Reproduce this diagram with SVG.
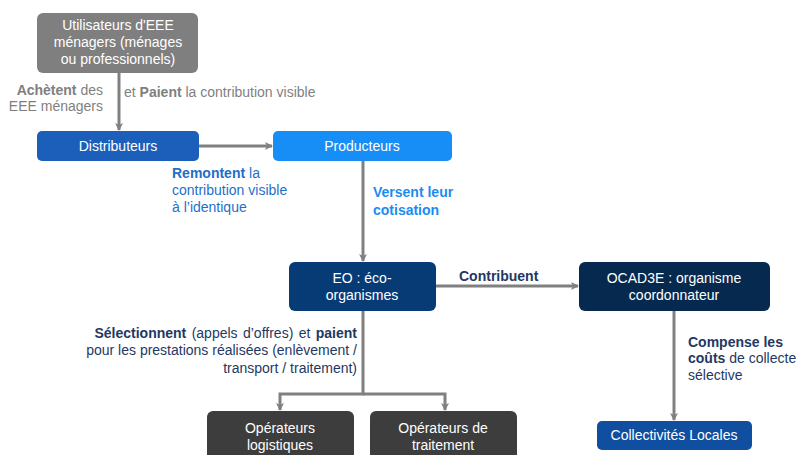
<svg xmlns="http://www.w3.org/2000/svg" width="799" height="455" viewBox="0 0 799 455">
<style>
text{font-family:"Liberation Sans",Arial,sans-serif;font-size:14px}
.w{fill:#ffffff;text-anchor:middle}
.c{fill:none;stroke:#808080;stroke-width:3}
.b{font-weight:bold}
.gr{fill:#7f7f7f}
.bl{fill:#1f6fc8}
.lb{fill:#1a8cf0}
.nv{fill:#1f3864}
</style>
<defs>
<marker id="ah" markerWidth="10" markerHeight="10" refX="7" refY="5" orient="auto" markerUnits="userSpaceOnUse">
<path d="M0,1 L8,5 L0,9 L2,5 Z" fill="#808080"/>
</marker>
</defs>
<g id="connectors">
<line class="c" x1="119" y1="73" x2="119" y2="130" marker-end="url(#ah)"/>
<line class="c" x1="199" y1="146" x2="272" y2="146" marker-end="url(#ah)"/>
<line class="c" x1="363" y1="161" x2="363" y2="261" marker-end="url(#ah)"/>
<line class="c" x1="436" y1="286" x2="578" y2="286" marker-end="url(#ah)"/>
<line class="c" x1="674" y1="311" x2="674" y2="420" marker-end="url(#ah)"/>
<polyline class="c" points="363,311 363,394 280,394 280,410" marker-end="url(#ah)"/>
<polyline class="c" points="363,394 445,394 445,410" marker-end="url(#ah)"/>
</g>
<g id="utilisateurs">
<rect x="37" y="13" width="161" height="60" rx="6" fill="#7f7f7f"/>
<text class="w" x="118" y="30">Utilisateurs d'EEE</text>
<text class="w" x="118" y="47">ménagers (ménages</text>
<text class="w" x="118" y="64">ou professionnels)</text>
</g>
<g id="distributeurs">
<rect x="37" y="131" width="162" height="30" rx="5" fill="#1b5fbb"/>
<text class="w" x="118" y="151">Distributeurs</text>
</g>
<g id="producteurs">
<rect x="273" y="131" width="179" height="30" rx="5" fill="#168ef5"/>
<text class="w" x="362" y="151">Producteurs</text>
</g>
<g id="eo">
<rect x="289" y="262" width="147" height="49" rx="6" fill="#073b76"/>
<text class="w" x="362" y="283">EO : éco-</text>
<text class="w" x="362" y="300">organismes</text>
</g>
<g id="ocad3e">
<rect x="579" y="262" width="191" height="49" rx="6" fill="#06294f"/>
<text class="w" x="674" y="283">OCAD3E : organisme</text>
<text class="w" x="674" y="300">coordonnateur</text>
</g>
<g id="collectivites">
<rect x="597" y="421" width="155" height="29" rx="5" fill="#104ea0"/>
<text class="w" x="674" y="440">Collectivités Locales</text>
</g>
<g id="operateurs-logistiques">
<rect x="207" y="411" width="147" height="55" rx="6" fill="#3d3d3d"/>
<text class="w" x="280" y="433">Opérateurs</text>
<text class="w" x="280" y="450">logistiques</text>
</g>
<g id="operateurs-traitement">
<rect x="370" y="411" width="147" height="55" rx="6" fill="#3d3d3d"/>
<text class="w" x="443" y="433">Opérateurs de</text>
<text class="w" x="443" y="450">traitement</text>
</g>
<g id="labels">
<text class="gr" x="103" y="95" text-anchor="end"><tspan class="b">Achètent</tspan> des</text>
<text class="gr" x="103" y="111" text-anchor="end">EEE ménagers</text>
<text class="gr" x="124" y="97">et <tspan class="b">Paient</tspan> la contribution visible</text>
<text class="bl" x="172" y="178"><tspan class="b">Remontent</tspan> la</text>
<text class="bl" x="172" y="195">contribution visible</text>
<text class="bl" x="172" y="212">à l’identique</text>
<text class="lb b" x="373" y="197">Versent leur</text>
<text class="lb b" x="373" y="215">cotisation</text>
<text class="nv b" x="459" y="281">Contribuent</text>
<text class="nv" x="357" y="338" text-anchor="end" word-spacing="1.5"><tspan class="b">Sélectionnent</tspan> (appels d’offres) et <tspan class="b">paient</tspan></text>
<text class="nv" x="357" y="355" text-anchor="end">pour les prestations réalisées (enlèvement  /</text>
<text class="nv" x="357" y="373" text-anchor="end">transport / traitement)</text>
<text class="nv" x="688" y="347"><tspan class="b">Compense les</tspan></text>
<text class="nv" x="688" y="363"><tspan class="b">coûts</tspan> de collecte</text>
<text class="nv" x="688" y="380">sélective</text>
</g>
</svg>
